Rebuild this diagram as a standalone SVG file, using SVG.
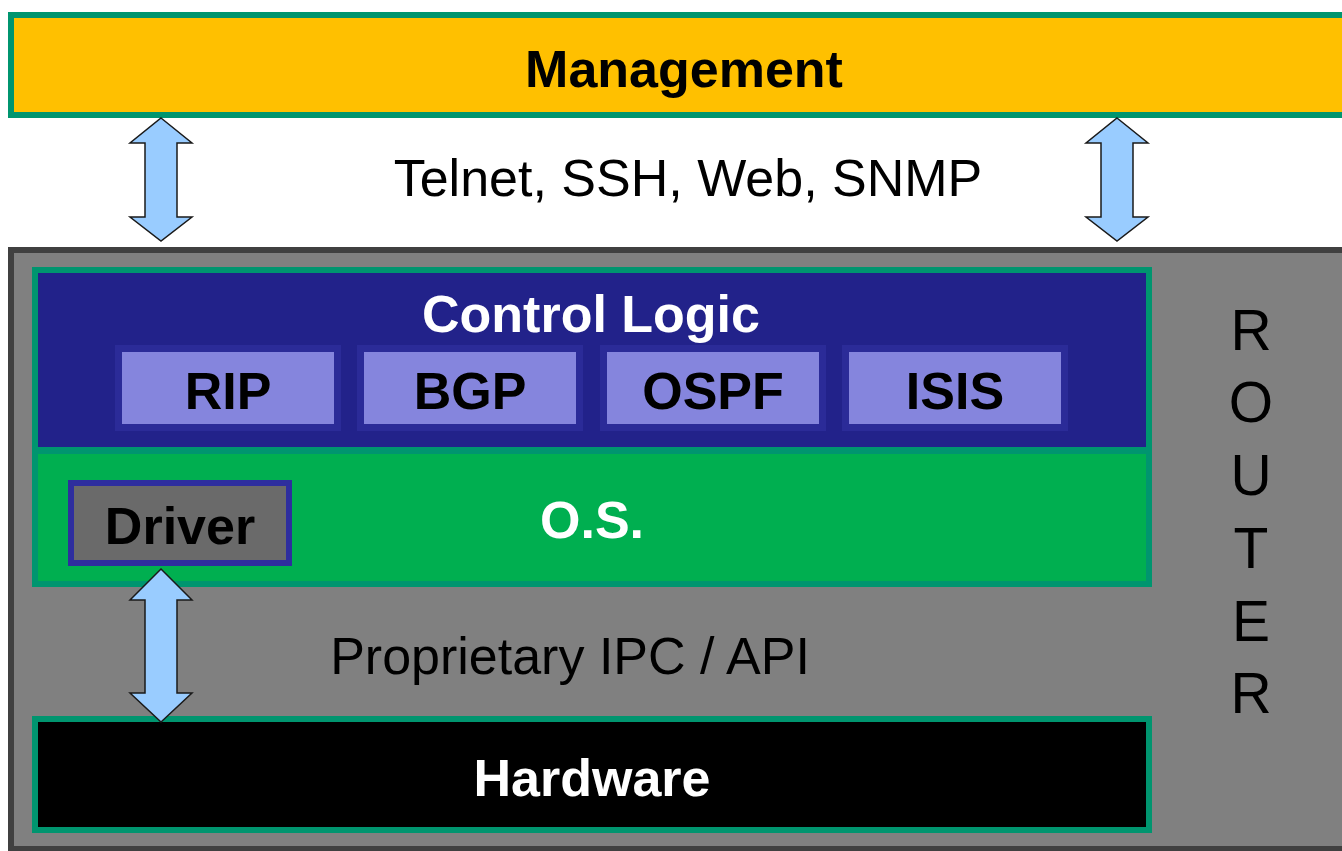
<svg xmlns="http://www.w3.org/2000/svg" width="1342" height="851" viewBox="0 0 1342 851">
  <style>
    .lbl { font-family: "Liberation Sans", Arial, sans-serif; font-size: 52px; text-anchor: middle; }
    .bold { font-weight: bold; }
    .dark { fill: #000000; }
    .light { fill: #ffffff; }
    .layer { stroke: #00956f; stroke-width: 6; }
    .proto-frame { fill: #2b2b98; }
    .proto { fill: #8585dd; }
    .arrow { fill: #99ccff; stroke: #1a1a1a; stroke-width: 1.5; stroke-linejoin: miter; }
  </style>

  <rect x="0" y="0" width="1342" height="851" fill="#ffffff"/>

  <!-- management plane across the top -->
  <g id="management">
    <rect class="layer" x="11" y="15" width="1340" height="100" fill="#ffc000"/>
    <text class="lbl bold dark" x="684" y="87">Management</text>
  </g>

  <!-- router enclosure -->
  <g id="router">
    <rect x="11" y="250" width="1340" height="599" fill="#808080" stroke="#404040" stroke-width="6"/>
    <g class="lbl dark">
      <text x="1251" y="350" font-size="57">R</text>
      <text x="1251" y="422" font-size="57">O</text>
      <text x="1251" y="495" font-size="57">U</text>
      <text x="1251" y="568" font-size="57">T</text>
      <text x="1251" y="641" font-size="57">E</text>
      <text x="1251" y="713" font-size="57">R</text>
    </g>
  </g>

  <!-- control logic layer with routing protocols -->
  <g id="control-logic">
    <rect class="layer" x="35" y="270" width="1114" height="180" fill="#22228a"/>
    <text class="lbl bold light" x="591" y="332">Control Logic</text>
  </g>
  <g id="rip">
    <rect class="proto-frame" x="115" y="345" width="226" height="86"/>
    <rect class="proto" x="122" y="352" width="212" height="72"/>
    <text class="lbl bold dark" x="228" y="409">RIP</text>
  </g>
  <g id="bgp">
    <rect class="proto-frame" x="357" y="345" width="226" height="86"/>
    <rect class="proto" x="364" y="352" width="212" height="72"/>
    <text class="lbl bold dark" x="470" y="409">BGP</text>
  </g>
  <g id="ospf">
    <rect class="proto-frame" x="600" y="345" width="226" height="86"/>
    <rect class="proto" x="607" y="352" width="212" height="72"/>
    <text class="lbl bold dark" x="713" y="409">OSPF</text>
  </g>
  <g id="isis">
    <rect class="proto-frame" x="842" y="345" width="226" height="86"/>
    <rect class="proto" x="849" y="352" width="212" height="72"/>
    <text class="lbl bold dark" x="955" y="409">ISIS</text>
  </g>

  <!-- operating system layer -->
  <g id="os">
    <rect class="layer" x="35" y="451" width="1114" height="133" fill="#00af50"/>
    <text class="lbl bold light" x="592" y="538">O.S.</text>
  </g>
  <g id="driver">
    <rect x="71" y="483" width="218" height="80" fill="#6a6a6a" stroke="#2e2e9e" stroke-width="6"/>
    <text class="lbl bold dark" x="180" y="544">Driver</text>
  </g>

  <!-- hardware layer -->
  <g id="hardware">
    <rect class="layer" x="35" y="719" width="1114" height="111" fill="#000000"/>
    <text class="lbl bold light" x="592" y="796">Hardware</text>
  </g>

  <!-- two-way interfaces between layers -->
  <g id="connectors">
    <path class="arrow" d="M161,118 L192,143 L177,143 L177,217 L192,217 L161,241 L130,217 L145,217 L145,143 L130,143 Z"/>
    <path class="arrow" d="M1117,118 L1148,143 L1133,143 L1133,217 L1148,217 L1117,241 L1086,217 L1101,217 L1101,143 L1086,143 Z"/>
    <text class="lbl dark" x="688" y="196">Telnet, SSH, Web, SNMP</text>
    <path class="arrow" d="M161,569 L192,600 L177,600 L177,693 L192,693 L161,722 L130,693 L145,693 L145,600 L130,600 Z"/>
    <text class="lbl dark" x="570" y="674">Proprietary IPC / API</text>
  </g>
</svg>
